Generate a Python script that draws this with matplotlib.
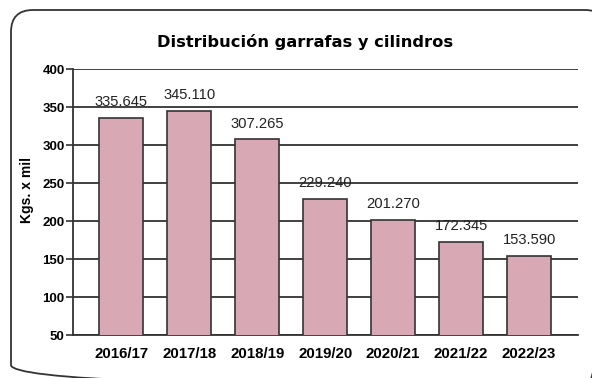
import matplotlib.pyplot as plt
from matplotlib.patches import FancyBboxPatch

# campaign seasons and distributed volume (thousand kg)
seasons = ['2016/17', '2017/18', '2018/19', '2019/20', '2020/21', '2021/22', '2022/23']
kgs = [335.645, 345.110, 307.265, 229.240, 201.270, 172.345, 153.590]
value_labels = ['335.645', '345.110', '307.265', '229.240', '201.270', '172.345', '153.590']
yticks = [50, 100, 150, 200, 250, 300, 350, 400]

W, H = 592, 378
fig = plt.figure(figsize=(W / 100, H / 100), dpi=100)

# background axes in pixel units, used for the rounded frame
bg = fig.add_axes([0, 0, 1, 1])
bg.set_xlim(0, W)
bg.set_ylim(H, 0)
bg.axis('off')
frame = FancyBboxPatch((11, 10), 596, 377,
                       boxstyle='round,pad=0,rounding_size=22',
                       fill=False, edgecolor='#333333', linewidth=1.3,
                       clip_on=False)
bg.add_patch(frame)

ax = fig.add_axes([73 / W, (H - 335) / H, (578 - 73) / W, (335 - 69) / H])
ax.patch.set_alpha(0)

x = range(len(seasons))
ax.bar(x, kgs, width=0.65, bottom=0, color='#D8A8B4',
       edgecolor='#333333', linewidth=1.2, zorder=3)

for xi, v, lab in zip(x, kgs, value_labels):
    ax.annotate(lab, (xi, v), xytext=(0, 8.5), textcoords='offset points',
                ha='center', va='baseline', fontsize=10.6, zorder=4,
                family=['Liberation Sans', 'DejaVu Sans'], color='#222222')

ax.set_ylim(50, 400)
ax.set_xlim(-0.71, 6.72)
ax.set_yticks(yticks)
ax.set_xticks(list(x))
ax.set_xticklabels(seasons, fontsize=10.8, fontweight='bold',
                   family=['Liberation Sans', 'DejaVu Sans'])
for t in ax.get_yticklabels():
    t.set_fontsize(9.5)
    t.set_fontweight('bold')
    t.set_family(['Liberation Sans', 'DejaVu Sans'])

ax.grid(axis='y', color='#333333', linewidth=1.3, zorder=1)
ax.set_axisbelow(True)
for side in ['top', 'right']:
    ax.spines[side].set_visible(False)
for side in ['left', 'bottom']:
    ax.spines[side].set_color('#333333')
    ax.spines[side].set_linewidth(1.3)
ax.tick_params(axis='y', direction='out', length=5, width=1.2, color='#333333', pad=1)
ax.tick_params(axis='x', length=0, pad=9)

ax.set_ylabel('Kgs. x mil', fontsize=10, fontweight='bold',
              family=['Liberation Sans', 'DejaVu Sans'])
ax.yaxis.set_label_coords(-0.077, 0.545)

fig.text(305 / W, 1 - 42 / H, 'Distribución garrafas y cilindros',
         ha='center', va='center', fontsize=11.7, fontweight='bold',
         family='DejaVu Sans')

fig.savefig('out.png', dpi=100)
